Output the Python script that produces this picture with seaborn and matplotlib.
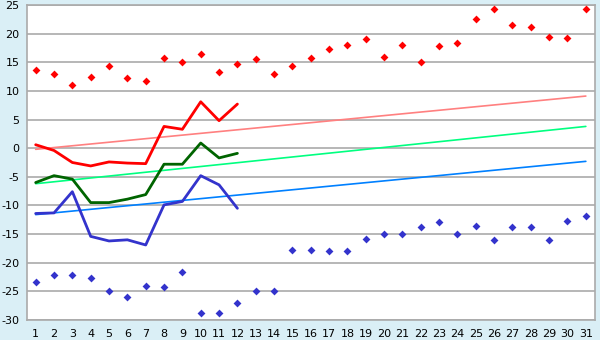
import matplotlib
matplotlib.use("Agg")
import matplotlib.pyplot as plt
import seaborn as sns
import pandas as pd

days = list(range(1, 32))
max_pts = [13.6, 12.9, 11.0, 12.4, 14.3, 12.2, 11.7, 15.7, 15.0, 16.5, 13.3, 14.7, 15.6, 12.9, 14.3,
           15.7, 17.3, 18.0, 19.1, 15.9, 18.0, 15.0, 17.8, 18.4, 22.6, 24.3, 21.5, 21.2, 19.4, 19.2, 24.3]
min_pts = [-23.4, -22.2, -22.2, -22.7, -25.0, -26.0, -24.0, -24.3, -21.7, -28.8, -28.8, -27.1, -25.0, -25.0, -17.8,
           -17.8, -18.0, -18.0, -15.9, -15.0, -15.0, -13.8, -12.9, -15.0, -13.6, -16.1, -13.8, -13.8, -16.1, -12.8, -11.9]
line_days = list(range(1, 13))
max_line = [0.6, -0.4, -2.5, -3.1, -2.4, -2.6, -2.7, 3.8, 3.3, 8.1, 4.8, 7.7]
mean_line = [-6.0, -4.8, -5.4, -9.5, -9.5, -8.9, -8.1, -2.8, -2.8, 0.9, -1.7, -0.9]
min_line = [-11.4, -11.3, -7.6, -15.4, -16.2, -16.0, -16.9, -9.9, -9.3, -4.8, -6.4, -10.5]
trend_days = [1, 31]
max_trend = [-0.2, 9.1]
mean_trend = [-6.2, 3.8]
min_trend = [-11.6, -2.3]
y_ticks = [25, 20, 15, 10, 5, 0, -5, -10, -15, -20, -25, -30]

sns.set_style("white")
plt.rcParams['font.family'] = ['DejaVu Sans']

bg = '#daeff6'
fig = plt.figure(figsize=(6, 3.4), dpi=100, facecolor=bg)
ax = fig.add_axes([26.5/600, 20/340, (595-26.5)/600, 315/340])
ax.set_facecolor('white')

for y in y_ticks:
    ax.axhline(y, color='#aaaaaa', lw=1.2, zorder=0)

sns.lineplot(x=trend_days, y=max_trend, ax=ax, color='#ff8080', lw=1.2, zorder=2)
sns.lineplot(x=trend_days, y=mean_trend, ax=ax, color='#00ff80', lw=1.2, zorder=2)
sns.lineplot(x=trend_days, y=min_trend, ax=ax, color='#0080ff', lw=1.2, zorder=2)

sns.lineplot(x=line_days, y=max_line, ax=ax, color='#ff0000', lw=2, zorder=3)
sns.lineplot(x=line_days, y=mean_line, ax=ax, color='#006400', lw=2, zorder=3)
sns.lineplot(x=line_days, y=min_line, ax=ax, color='#3333cc', lw=2, zorder=3)

sns.scatterplot(x=days, y=max_pts, ax=ax, color='#ff0000', marker='D', s=16, linewidth=0, zorder=4)
sns.scatterplot(x=days, y=min_pts, ax=ax, color='#3333cc', marker='D', s=16, linewidth=0, zorder=4)

ax.set_xlim(0.5, 31.5)
ax.set_ylim(-30, 25)
ax.set_xticks(days)
ax.set_xticklabels([str(d) for d in days])
ax.set_yticks(y_ticks)
ax.set_yticklabels([str(y) for y in y_ticks])
ax.tick_params(axis='both', length=4, width=1, color='#333333', labelsize=8, pad=1.5, colors='#000000')
ax.tick_params(axis='x', direction='out', color='#333333', pad=2.5)
ax.tick_params(axis='y', direction='out', color='#333333', length=3.5)
for s in ['left', 'right', 'top', 'bottom']:
    ax.spines[s].set_color('#aaaaaa')
    ax.spines[s].set_linewidth(1.2)
ax.set_xlabel('')
ax.set_ylabel('')

fig.savefig('out.png', dpi=100, facecolor=bg)
